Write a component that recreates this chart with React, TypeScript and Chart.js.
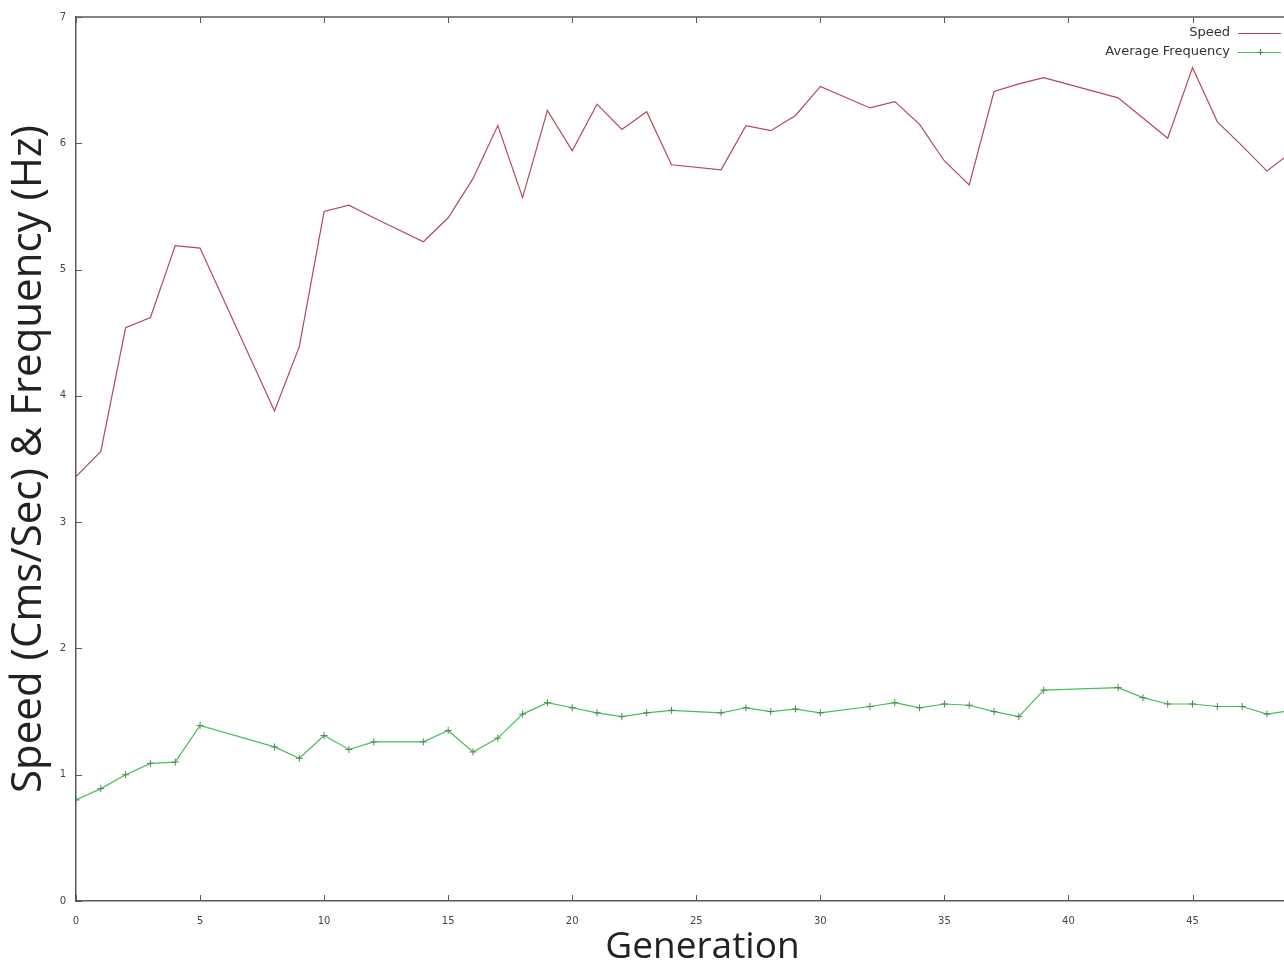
import React, { useEffect, useRef } from "react";
import { Chart, registerables } from "chart.js";

Chart.register(...registerables);

const generations = [0, 1, 2, 3, 4, 5, 8, 9, 10, 11, 12, 14, 15, 16, 17, 18, 19, 20, 21, 22, 23, 24, 26, 27, 28, 29, 30, 32, 33, 34, 35, 36, 37, 38, 39, 42, 43, 44, 45, 46, 47, 48, 49];
const speed = [3.36, 3.56, 4.54, 4.62, 5.19, 5.17, 3.88, 4.39, 5.46, 5.51, 5.41, 5.22, 5.41, 5.72, 6.14, 5.57, 6.26, 5.94, 6.31, 6.11, 6.25, 5.83, 5.79, 6.14, 6.1, 6.22, 6.45, 6.28, 6.33, 6.15, 5.86, 5.67, 6.41, 6.47, 6.52, 6.36, 6.2, 6.04, 6.6, 6.17, 5.98, 5.78, 5.93];
const avgFrequency = [0.8, 0.89, 1.0, 1.09, 1.1, 1.39, 1.22, 1.13, 1.31, 1.2, 1.26, 1.26, 1.35, 1.18, 1.29, 1.48, 1.57, 1.53, 1.49, 1.46, 1.49, 1.51, 1.49, 1.53, 1.5, 1.52, 1.49, 1.54, 1.57, 1.53, 1.56, 1.55, 1.5, 1.46, 1.67, 1.69, 1.61, 1.56, 1.56, 1.54, 1.54, 1.48, 1.51];
const xTicks = [0, 5, 10, 15, 20, 25, 30, 35, 40, 45, 50];
const yTicks = [0, 1, 2, 3, 4, 5, 6, 7];
const seriesNames = ["Speed", "Average Frequency"];
const xTitle = "Generation";
const yTitle = "Speed (Cms/Sec) & Frequency (Hz)";

const RED = "#b5475a";
const GREEN = "#45c055";
const GREEN_MARK = "#4a8a50";
const AXIS = "#5a5a5a";

const framePlugin = {
  id: "gnuplotFrame",
  afterDraw(chart: any) {
    const { ctx, chartArea } = chart;
    const { left, right, top, bottom } = chartArea;
    const xs = chart.scales.x;
    const ys = chart.scales.y;
    ctx.save();
    ctx.strokeStyle = AXIS;
    ctx.lineWidth = 1.5;
    ctx.beginPath();
    ctx.moveTo(left, top);
    ctx.lineTo(right, top);
    ctx.stroke();
    ctx.lineWidth = 1;
    ctx.beginPath();
    xs.ticks.forEach((t: any) => {
      const px = Math.round(xs.getPixelForValue(t.value)) + 0.5;
      ctx.moveTo(px, bottom);
      ctx.lineTo(px, bottom - 6);
      ctx.moveTo(px, top);
      ctx.lineTo(px, top + 6);
    });
    ys.ticks.forEach((t: any) => {
      const py = Math.round(ys.getPixelForValue(t.value)) + 0.5;
      ctx.moveTo(left, py);
      ctx.lineTo(left + 6, py);
    });
    ctx.stroke();

    // legend (gnuplot style: text then sample)
    ctx.font = "13px 'DejaVu Sans'";
    ctx.fillStyle = "#333";
    ctx.textAlign = "right";
    ctx.textBaseline = "middle";
    const textRight = 1230;
    const x0 = 1238;
    const x1 = 1281;
    const rows = [33, 52];
    ctx.fillText(seriesNames[0], textRight, rows[0]);
    ctx.fillText(seriesNames[1], textRight, rows[1]);
    ctx.lineWidth = 1.2;
    ctx.strokeStyle = RED;
    ctx.beginPath();
    ctx.moveTo(x0, rows[0] + 0.5);
    ctx.lineTo(x1, rows[0] + 0.5);
    ctx.stroke();
    ctx.strokeStyle = GREEN;
    ctx.beginPath();
    ctx.moveTo(x0, rows[1] + 0.5);
    ctx.lineTo(x1, rows[1] + 0.5);
    ctx.stroke();
    ctx.strokeStyle = GREEN_MARK;
    ctx.beginPath();
    const cx = Math.round((x0 + x1) / 2);
    ctx.moveTo(cx - 3, rows[1] + 0.5);
    ctx.lineTo(cx + 3, rows[1] + 0.5);
    ctx.moveTo(cx + 0.5, rows[1] - 3);
    ctx.lineTo(cx + 0.5, rows[1] + 3);
    ctx.stroke();
    ctx.restore();
  },
};

export default function App() {
  const ref = useRef<HTMLCanvasElement | null>(null);
  useEffect(() => {
    if (!ref.current) return;
    const chart = new Chart(ref.current, {
      type: "line",
      data: {
        datasets: [
          {
            label: seriesNames[0],
            data: generations.map((g, i) => ({ x: g, y: speed[i] })),
            borderColor: RED,
            borderWidth: 1.2,
            pointRadius: 0,
            tension: 0,
            fill: false,
          },
          {
            label: seriesNames[1],
            data: generations.map((g, i) => ({ x: g, y: avgFrequency[i] })),
            borderColor: GREEN,
            borderWidth: 1.2,
            pointStyle: "cross",
            pointRadius: 3.5,
            pointBorderWidth: 1,
            pointBorderColor: GREEN_MARK,
            pointBackgroundColor: GREEN_MARK,
            tension: 0,
            fill: false,
          },
        ],
      },
      options: {
        animation: false,
        responsive: false,
        devicePixelRatio: 1,
        layout: { padding: { top: 17, right: 0, left: 0, bottom: 0 } },
        plugins: { legend: { display: false }, tooltip: { enabled: false } },
        scales: {
          x: {
            type: "linear",
            min: 0,
            max: 50.5,
            afterBuildTicks: (s: any) => {
              s.ticks = xTicks.map((v) => ({ value: v }));
            },
            afterFit: (s: any) => {
              s.height = 67;
            },
            grid: { display: true, drawOnChartArea: false, drawTicks: false },
            border: { display: true, color: AXIS, width: 1.5 },
            ticks: {
              padding: 14,
              color: "#444",
              font: { family: "'DejaVu Sans'", size: 10 },
              maxRotation: 0,
              autoSkip: false,
            },
            title: {
              display: true,
              text: xTitle,
              color: "#222",
              font: { family: "'Open Sans'", size: 37 },
              padding: { top: 0, bottom: -2 },
            },
          },
          y: {
            type: "linear",
            min: 0,
            max: 7,
            afterBuildTicks: (s: any) => {
              s.ticks = yTicks.map((v) => ({ value: v }));
            },
            afterFit: (s: any) => {
              s.width = 76;
            },
            grid: { display: true, drawOnChartArea: false, drawTicks: false },
            border: { display: true, color: AXIS, width: 1.5 },
            ticks: {
              padding: 10,
              color: "#444",
              font: { family: "'DejaVu Sans'", size: 10 },
            },
            title: {
              display: true,
              text: yTitle,
              color: "#222",
              font: { family: "'Open Sans'", size: 42 },
              padding: { top: 4, bottom: 0 },
            },
          },
        },
      },
      plugins: [framePlugin],
    });
    return () => chart.destroy();
  }, []);
  return (
    <div style={{ position: "fixed", left: 0, top: 0, width: 1284, height: 968, background: "#fff", overflow: "hidden" }}>
      <canvas ref={ref} width={1337} height={968} style={{ display: "block" }} />
    </div>
  );
}
